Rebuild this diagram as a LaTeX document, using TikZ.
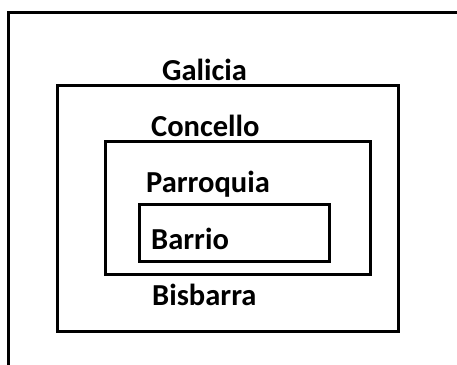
\documentclass[tikz,border=0pt]{standalone}
\usepackage{fontspec}
\setmainfont{Carlito}
\begin{document}
\begin{tikzpicture}[x=1pt,y=-1pt,
  boxline/.style={draw=black,line width=3pt},
  lbl/.style={anchor=base west,inner sep=0pt,font=\bfseries\fontsize{30.5}{34}\selectfont}]
\useasboundingbox (0,0) rectangle (457,364);
\draw[boxline] (8,380) -- (8,12) -- (470,12);
\draw[boxline] (57,85) rectangle (398,331);
\draw[boxline] (105,141) rectangle (370,274);
\draw[boxline] (139,204) rectangle (329,261);
\node[lbl] (galicia) at (162,80) {Galicia};
\node[lbl] (concello) at (151,136) {Concello};
\node[lbl] (parroquia) at (146,192) {Parroquia};
\node[lbl] (barrio) at (151,249) {Barrio};
\node[lbl] (bisbarra) at (152,305) {Bisbarra};
\end{tikzpicture}
\end{document}
